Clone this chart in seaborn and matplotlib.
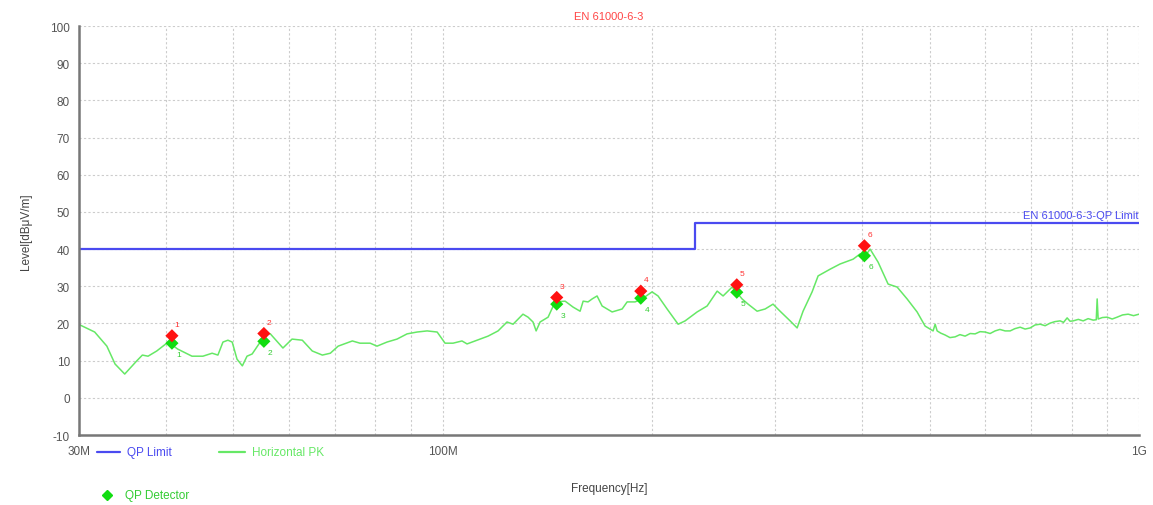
import numpy as np
import pandas as pd
import matplotlib
matplotlib.use("Agg")
import matplotlib.pyplot as plt
from matplotlib.lines import Line2D
from matplotlib.ticker import FixedLocator, NullFormatter
import seaborn as sns

# trace (MHz, dBuV/m)
freq_pk = [30.1, 31.6, 32.9, 33.8, 34.9, 36.3, 37.0, 37.7, 38.8, 40.3,
           41.6, 43.6, 45.2, 46.6, 47.5, 48.3, 49.1, 49.8, 50.6, 51.5,
           52.3, 53.2, 55.0, 55.9, 56.5, 58.9, 60.7, 62.8, 64.9, 67.1,
           68.9, 70.7, 74.1, 76.0, 78.6, 80.4, 83.1, 85.9, 88.8, 91.8,
           94.9, 98.1, 100.7, 103.4, 106.5, 108.3, 111.2, 116.1, 120.0, 123.6,
           126.1, 130.3, 132.5, 134.7, 136.1, 137.9, 141.6, 144.9, 149.8, 153.8,
           157.4, 159.0, 161.6, 163.8, 166.5, 169.3, 175.0, 180.9, 183.9, 188.8,
           193.2, 199.7, 203.7, 209.9, 217.7, 222.8, 231.8, 239.6, 247.7, 252.6,
           260.3, 269.0, 274.4, 282.7, 290.3, 298.0, 305.0, 315.3, 322.7, 329.1,
           339.1, 345.9, 359.9, 372.0, 388.4, 397.4, 404.1, 410.8, 421.8, 436.0,
           449.2, 464.3, 479.9, 492.8, 506.0, 509.4, 512.8, 519.0, 526.5, 535.0,
           544.2, 553.0, 562.5, 572.0, 581.4, 591.0, 601.0, 611.0, 621.2, 631.0,
           642.1, 652.9, 663.0, 674.8, 686.0, 697.5, 709.0, 721.0, 733.0, 745.3,
           757.0, 770.3, 779.0, 788.3, 796.0, 804.2, 818.0, 831.2, 845.0, 859.2,
           868.0, 870.6, 873.5, 886.0, 899.9, 915.0, 930.2, 947.0, 964.6, 982.0,
           1000.0]
level_pk = [19.6, 17.7, 13.9, 9.1, 6.4, 9.9, 11.5, 11.2, 12.6, 15.0,
            13.1, 11.2, 11.2, 12.0, 11.5, 15.0, 15.5, 15.0, 10.4, 8.6,
            11.2, 11.8, 15.8, 17.2, 17.2, 13.4, 15.8, 15.5, 12.6, 11.5,
            12.0, 13.9, 15.3, 14.7, 14.7, 13.9, 15.0, 15.8, 17.2, 17.7,
            18.0, 17.7, 14.7, 14.7, 15.3, 14.5, 15.3, 16.6, 18.0, 20.4,
            19.8, 22.5, 21.7, 20.4, 18.0, 20.4, 21.7, 25.8, 26.0, 24.4,
            23.3, 26.0, 25.8, 26.6, 27.4, 24.7, 23.1, 23.9, 25.8, 25.8,
            26.6, 28.5, 27.4, 23.9, 19.8, 20.7, 23.1, 24.7, 28.7, 27.4,
            29.8, 26.6, 25.2, 23.3, 23.9, 25.2, 23.3, 20.7, 18.8, 23.3,
            28.5, 32.8, 34.6, 36.0, 37.3, 38.7, 38.1, 40.0, 36.5, 30.6,
            29.8, 26.6, 23.1, 19.3, 18.0, 19.8, 18.0, 17.4, 16.9, 16.2,
            16.4, 17.0, 16.6, 17.3, 17.2, 17.8, 17.7, 17.3, 18.0, 18.4,
            18.0, 18.0, 18.6, 19.0, 18.5, 18.8, 19.6, 19.8, 19.4, 20.1,
            20.5, 20.7, 20.3, 21.5, 20.6, 20.7, 21.1, 20.7, 21.3, 20.9,
            21.0, 26.6, 21.2, 21.6, 21.7, 21.2, 21.7, 22.3, 22.5, 22.1,
            22.5]

# limite QP
freq_lim = [30, 230, 230, 1000]
level_lim = [40, 40, 47, 47]

# marcadores
freq_mk = [40.8, 55.3, 145.7, 192.4, 264.3, 403.1]
peak_mk = [16.7, 17.3, 27.0, 28.7, 30.4, 40.9]
qp_mk = [14.7, 15.2, 25.2, 26.8, 28.4, 38.2]
mk_labels = ["1", "2", "3", "4", "5", "6"]

df_pk = pd.DataFrame({"f": freq_pk, "lvl": level_pk})
df_lim = pd.DataFrame({"f": freq_lim, "lvl": level_lim})
df_mk = pd.DataFrame({"f": freq_mk, "pk": peak_mk, "qp": qp_mk})

sns.set_style("white")
plt.rcParams['font.family'] = ['Liberation Sans', 'DejaVu Sans']
plt.rcParams['axes.unicode_minus'] = False

fig = plt.figure(figsize=(11.53, 5.06), dpi=100)
ax = fig.add_axes([0.0685, 0.1383, 0.9194, 0.8083])

azul = '#4a4af0'
verde = '#66e866'

sns.lineplot(data=df_lim, x="f", y="lvl", sort=False, estimator=None, color=azul, linewidth=1.6, ax=ax)
sns.lineplot(data=df_pk, x="f", y="lvl", sort=False, estimator=None, color=verde, linewidth=1.1, ax=ax)
sns.scatterplot(data=df_mk, x="f", y="qp", marker="D", s=45, color='#11dd11', edgecolor='none', ax=ax, zorder=5)
sns.scatterplot(data=df_mk, x="f", y="pk", marker="D", s=45, color='#ff1111', edgecolor='none', ax=ax, zorder=6)

for f, p, q, t in zip(freq_mk, peak_mk, qp_mk, mk_labels):
    ax.annotate(t, (f, p), xytext=(2, 7), textcoords='offset points', color='#ff3333', fontsize=6, ha='left')
    ax.annotate(t, (f, q), xytext=(3, -9), textcoords='offset points', color='#33cc33', fontsize=6, ha='left')

ax.set_xscale('log')
ax.set_xlim(30, 1000)
ax.set_ylim(-10, 100)
ax.set_yticks(range(-10, 101, 10))
ax.xaxis.set_major_locator(FixedLocator([30, 100, 1000]))
ax.xaxis.set_minor_locator(FixedLocator([40, 50, 60, 70, 80, 90, 200, 300, 400, 500, 600, 700, 800, 900]))
ax.xaxis.set_minor_formatter(NullFormatter())
ax.set_xticklabels(["30M", "100M", "1G"])
ax.grid(True, which='both', color='#cccccc', linestyle=(0, (2, 2)), linewidth=0.8)
ax.set_axisbelow(True)

for s in ['top', 'right']:
    ax.spines[s].set_visible(False)
for s in ['left', 'bottom']:
    ax.spines[s].set_color('#777777')
    ax.spines[s].set_linewidth(1.8)

ax.tick_params(axis='both', which='both', direction='out', length=3, width=1, color='#777777',
               labelcolor='#555555', labelsize=8.5)
ax.tick_params(axis='x', which='major', pad=4)

ax.set_xlabel("Frequency[Hz]", fontsize=8.5, color='#444444', labelpad=18)
ax.set_ylabel("Level[dBμV/m]", fontsize=8.5, color='#444444', labelpad=13)
ax.set_title("EN 61000-6-3", fontsize=8, color='#ff4444', pad=5)

ax.text(998, 47.8, "EN 61000-6-3-QP Limit", color=azul, fontsize=8, ha='right', va='bottom')

# leyenda
fig.add_artist(Line2D([97 / 1153, 120 / 1153], [1 - 453 / 506] * 2, color=azul, linewidth=1.6))
fig.text(127 / 1153, 1 - 453 / 506, "QP Limit", color=azul, fontsize=8.5, va='center')
fig.add_artist(Line2D([219 / 1153, 245 / 1153], [1 - 453 / 506] * 2, color=verde, linewidth=1.6))
fig.text(252 / 1153, 1 - 453 / 506, "Horizontal PK", color=verde, fontsize=8.5, va='center')
fig.add_artist(Line2D([107 / 1153], [1 - 496 / 506], marker='D', markersize=5, color='#11dd11', linestyle='none'))
fig.text(125 / 1153, 1 - 496 / 506, "QP Detector", color='#33cc33', fontsize=8.5, va='center')

fig.savefig("out.png", dpi=100)
